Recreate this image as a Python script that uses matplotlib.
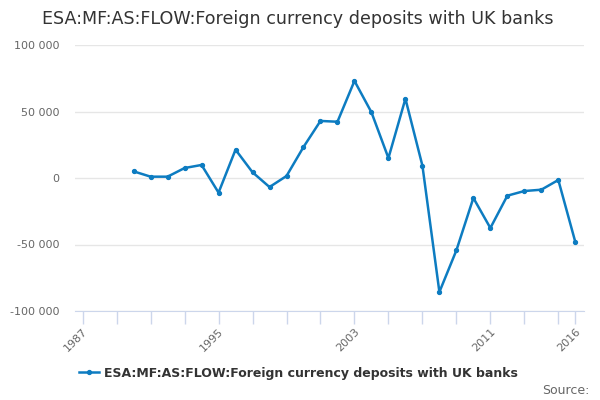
import numpy as np
import matplotlib
matplotlib.use('Agg')
import matplotlib.pyplot as plt
import matplotlib.ticker as mticker

years = list(range(1990, 2017))
values = [5000, 1000, 1000, 7500, 9800, -11000, 21300, 4300, -6800, 1500,
          23300, 42900, 42300, 73000, 49400, 15000, 59600, 9300, -85700, -54400,
          -15000, -37600, -13300, -9800, -8800, -1500, -48100]
label_years = [1987, 1995, 2003, 2011, 2016]
series_name = 'ESA:MF:AS:FLOW:Foreign currency deposits with UK banks'

line_color = '#0d7cc1'
grey = '#666666'

fig = plt.figure(figsize=[6, 4], dpi=100)
ax = fig.add_axes([0.125, 0.2225, 0.848, 0.665])

ax.plot(years, values, color=line_color, linewidth=1.8, marker='o', markersize=2.8,
        zorder=3, label=series_name)

ax.set_xlim(1986.55, 2016.5)
ax.set_ylim(-100000, 100000)

# y axis
ax.yaxis.set_major_locator(mticker.MultipleLocator(50000))
ax.yaxis.set_major_formatter(mticker.FuncFormatter(lambda v, p: '{:,.0f}'.format(v).replace(',', ' ')))
ax.grid(axis='y', color='#e6e6e6', linewidth=1)
ax.tick_params(axis='y', length=0, labelsize=8, labelcolor=grey, pad=11)

# x axis
ax.set_xticks(list(range(1987, 2016, 2)) + [2016], minor=True)
ax.set_xticks(label_years)
ax.set_xticklabels([str(y) for y in label_years], rotation=45, ha='right',
                   rotation_mode='anchor', fontsize=8, color=grey)
ax.tick_params(axis='x', which='both', length=9, color='#ccd6eb', width=1)
ax.tick_params(axis='x', which='major', pad=2)

for s in ['top', 'right', 'left']:
    ax.spines[s].set_visible(False)
ax.spines['bottom'].set_color('#ccd6eb')
ax.set_axisbelow(True)

fig.suptitle(series_name, x=0.497, y=0.975, fontsize=12.6, color='#333333')

leg = fig.legend(loc='center', bbox_to_anchor=(0.497, 0.067), frameon=False,
                 fontsize=9, handlelength=1.6, handletextpad=0.4)
for t in leg.get_texts():
    t.set_color('#333333')
    t.set_fontweight('bold')

fig.text(0.982, 0.025, 'Source:', ha='right', va='center', fontsize=9, color=grey)

fig.savefig('out.png', dpi=100)
